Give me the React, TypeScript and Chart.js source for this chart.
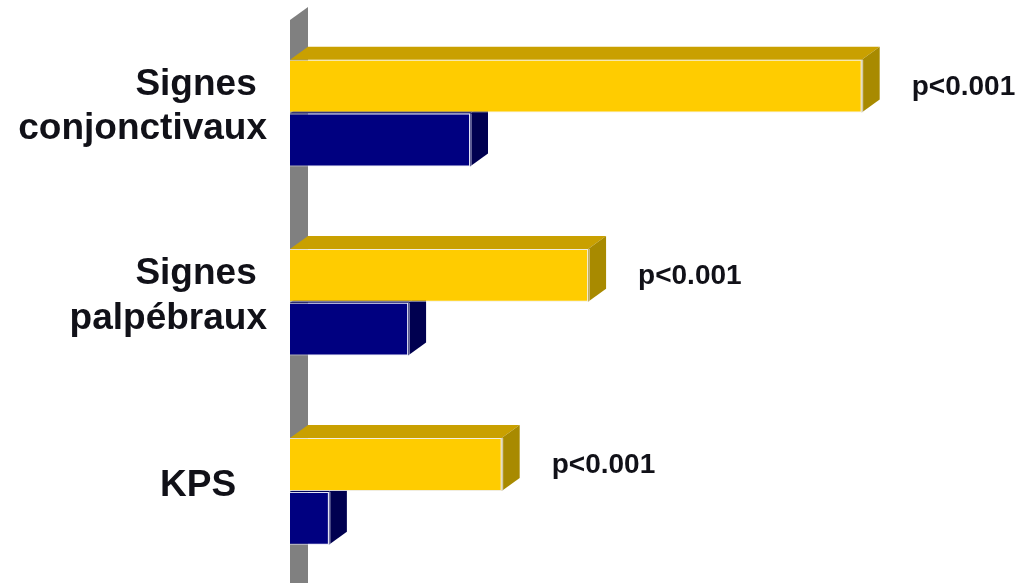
import React, { useEffect, useRef } from "react";
import { Chart, registerables } from "chart.js";

Chart.register(...registerables);

const categories: (string | string[])[] = [["Signes ", "conjonctivaux"], ["Signes ", "palpébraux"], "KPS   "];
const yellowValues = [79.4, 41.4, 29.4];
const navyValues = [25.0, 16.4, 5.4];
const pLabels = ["p<0.001", "p<0.001", "p<0.001"];

const DX = 18;
const DY = 13;
const FONT = "'Liberation Sans', Arial, Helvetica, sans-serif";

const faceColors: Record<number, { top: string; side: string }> = {
  0: { top: "#C9A000", side: "#A88A00" },
  1: { top: "#00005A", side: "#000050" },
};

const threeD = {
  id: "threeD",
  beforeDatasetsDraw(chart: any) {
    const { ctx, chartArea } = chart;
    ctx.save();
    const left = chartArea.left;
    const top = chartArea.top + 1.5;
    ctx.fillStyle = "#808080";
    ctx.beginPath();
    ctx.moveTo(left, top);
    ctx.lineTo(left + DX, top - DY);
    ctx.lineTo(left + DX, chart.height);
    ctx.lineTo(left, chart.height);
    ctx.closePath();
    ctx.fill();
    [1, 0].forEach((di) => {
      const meta = chart.getDatasetMeta(di);
      meta.data.forEach((bar: any) => {
        const { x, y, base, height } = bar.getProps(["x", "y", "base", "height"], true);
        const t = y - height / 2;
        const b = y + height / 2;
        ctx.fillStyle = faceColors[di].top;
        ctx.beginPath();
        ctx.moveTo(base, t);
        ctx.lineTo(base + DX, t - DY);
        ctx.lineTo(x + DX, t - DY);
        ctx.lineTo(x, t);
        ctx.closePath();
        ctx.fill();
        ctx.fillStyle = faceColors[di].side;
        ctx.beginPath();
        ctx.moveTo(x, t);
        ctx.lineTo(x + DX, t - DY);
        ctx.lineTo(x + DX, b - DY);
        ctx.lineTo(x, b);
        ctx.closePath();
        ctx.fill();
        ctx.strokeStyle = "rgba(235,235,250,0.8)";
        ctx.lineWidth = 1;
        ctx.beginPath();
        ctx.moveTo(x + 1, t);
        ctx.lineTo(x + 1, b);
        ctx.stroke();
      });
    });
    ctx.restore();
  },
  afterDatasetsDraw(chart: any) {
    const { ctx } = chart;
    const meta = chart.getDatasetMeta(0);
    ctx.save();
    ctx.font = `bold 28px ${FONT}`;
    ctx.fillStyle = "#111118";
    ctx.textAlign = "left";
    ctx.textBaseline = "middle";
    meta.data.forEach((bar: any, i: number) => {
      const { x, y } = bar.getProps(["x", "y"], true);
      ctx.fillText(pLabels[i], x + 50, y + 1);
    });
    ctx.restore();
  },
};

export default function App() {
  const ref = useRef<HTMLCanvasElement>(null);
  useEffect(() => {
    if (!ref.current) return;
    const chart = new Chart(ref.current, {
      type: "bar",
      data: {
        labels: categories as any,
        datasets: [
          {
            data: yellowValues,
            backgroundColor: "#FFCC00",
            borderColor: "rgba(240,235,220,0.9)",
            borderWidth: 1,
            barPercentage: 0.98,
            categoryPercentage: 0.57,
          },
          {
            data: navyValues,
            backgroundColor: "#000080",
            borderColor: "rgba(225,225,245,0.9)",
            borderWidth: 1,
            barPercentage: 0.98,
            categoryPercentage: 0.57,
          },
        ],
      },
      options: {
        indexAxis: "y",
        responsive: false,
        animation: false,
        layout: { padding: { left: 0, right: 19, top: 18.5, bottom: 14 } },
        plugins: { legend: { display: false }, tooltip: { enabled: false } },
        scales: {
          x: { display: false, min: 0, max: 100 },
          y: {
            grid: { display: false, drawTicks: false },
            border: { display: false },
            ticks: {
              color: "#111118",
              padding: 23,
              labelOffset: -6,
              font: { family: FONT, size: 37, weight: "bold", lineHeight: 1.2 },
            },
            afterFit: (s: any) => {
              s.width = 290;
              s.paddingTop = 0;
              s.paddingBottom = 0;
              s.paddingLeft = 0;
              s.paddingRight = 0;
            },
          },
        },
      },
      plugins: [threeD],
    });
    return () => chart.destroy();
  }, []);
  return (
    <div style={{ position: "absolute", left: 0, top: 0, width: 1029, height: 583, overflow: "hidden", background: "#fff" }}>
      <canvas ref={ref} width={1029} height={600} style={{ display: "block" }} />
    </div>
  );
}
